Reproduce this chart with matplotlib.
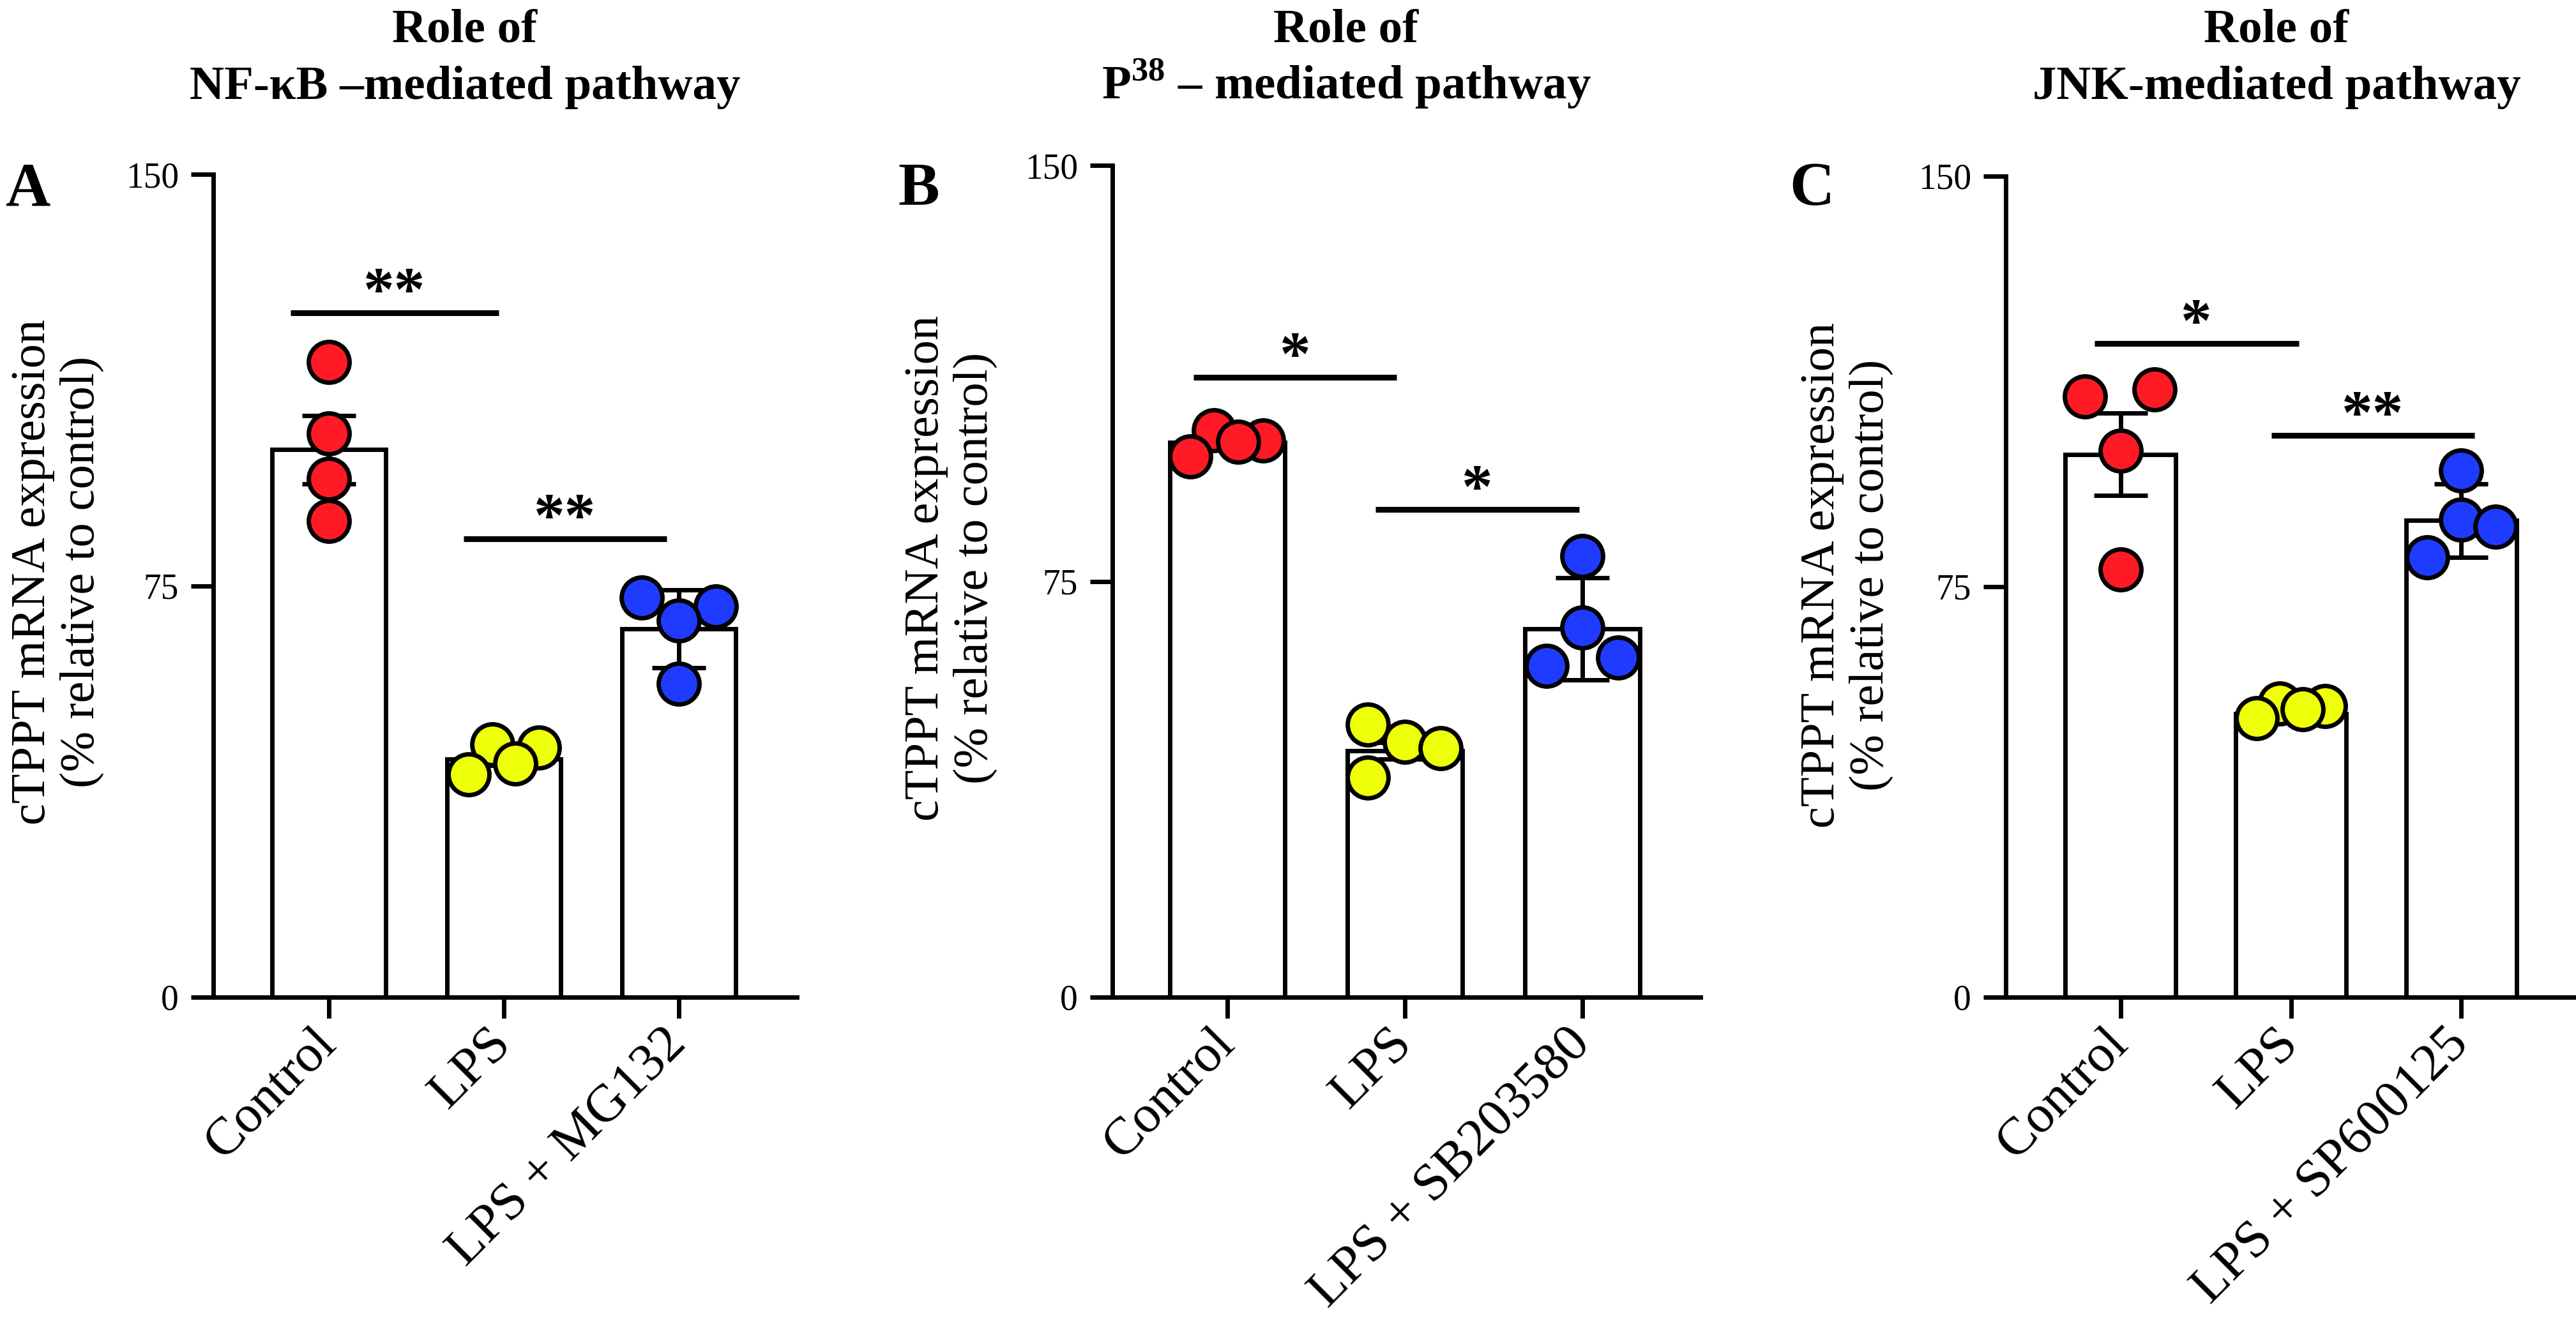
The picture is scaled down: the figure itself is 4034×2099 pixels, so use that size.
import numpy as np
import matplotlib
matplotlib.use('Agg')
import matplotlib.pyplot as plt

plt.rcParams['font.family'] = ['Liberation Serif', 'DejaVu Serif']
plt.rcParams['mathtext.fontset'] = 'custom'
plt.rcParams['mathtext.rm'] = 'Liberation Serif'
plt.rcParams['mathtext.bf'] = 'Liberation Serif:bold'

# data (% relative to control)
groups_A = ['Control', 'LPS', 'LPS + MG132']
mean_A = [99.8, 43.4, 67.2]
err_A = [6.2, 1.2, 7.1]
pts_A = [[115.8, 102.8, 94.5, 86.8], [40.6, 46.1, 42.6, 45.5], [72.9, 68.7, 71.2, 57.1]]
jit_A = [[0, 0, 0, 0], [-0.2, -0.067, 0.067, 0.2], [-0.21, 0, 0.21, 0]]
sig_A = [(-0.22, 0.97, 124.8, '**'), (0.77, 1.93, 83.6, '**')]

groups_B = ['Control', 'LPS', 'LPS + SB203580']
mean_B = [100.0, 44.4, 66.4]
err_B = [1.0, 1.5, 9.2]
pts_B = [[97.5, 102.2, 100.1, 100.4], [49.1, 46.0, 44.9, 39.6], [79.6, 66.7, 59.7, 61.3]]
jit_B = [[-0.21, -0.075, 0.063, 0.2], [-0.21, 0, 0.2, -0.21], [0, 0, -0.2, 0.2]]
sig_B = [(-0.19, 0.955, 111.8, '*'), (0.836, 1.98, 87.9, '*')]

groups_C = ['Control', 'LPS', 'LPS + SP600125']
mean_C = [99.2, 51.8, 87.1]
err_C = [7.5, 0.6, 6.7]
pts_C = [[109.8, 111.0, 99.8, 78.2], [51.0, 53.6, 52.6, 53.2], [96.2, 87.3, 86.0, 80.4]]
jit_C = [[-0.21, 0.2, 0, 0], [-0.2, -0.067, 0.07, 0.2], [0, 0, 0.2, -0.2]]
sig_C = [(-0.154, 1.045, 119.4, '*'), (0.885, 2.077, 102.6, '**')]

colors = ['#FF1A25', '#EEFF0A', '#1F3BFF']
ylab = 'cTPPT mRNA expression\n(% relative to control)'

W, H = 4034, 2099
fig = plt.figure(figsize=(W / 100, H / 100), dpi=100)


def panel(rect, xlim, groups, means, errs, pts, jit, sigs):
    ax = fig.add_axes(rect)
    x = np.arange(len(groups))
    ax.bar(x, means, width=0.65, color='white', edgecolor='black', linewidth=5, zorder=1)
    ax.errorbar(x, means, yerr=errs, fmt='none', ecolor='black', elinewidth=5,
                capsize=30, capthick=5, zorder=2)
    for i, vals in enumerate(pts):
        vals = np.array(vals)
        off = np.array(jit[i])
        order = np.argsort(-vals)  # lower points drawn on top
        for k in order:
            ax.plot(x[i] + off[k], vals[k], 'o', ms=46, mfc=colors[i], mec='black',
                    mew=5, zorder=3, clip_on=False)
    for x0, x1, y, s in sigs:
        ax.plot([x0, x1], [y, y], color='black', lw=6.5, solid_capstyle='butt', zorder=4)
        ax.text((x0 + x1) / 2, y + 0.5, s, ha='center', va='baseline',
                fontsize=70, fontweight='bold')
    ax.set_xlim(*xlim)
    ax.set_ylim(0, 150)
    ax.set_yticks([0, 75, 150])
    ax.set_xticks(x)
    ax.set_xticklabels(groups, rotation=45, ha='right', va='center',
                       rotation_mode='anchor', fontsize=60)
    ax.tick_params(axis='y', length=25, width=5, labelsize=40, pad=14)
    ax.tick_params(axis='x', length=24, width=5, pad=20)
    for s in ['top', 'right']:
        ax.spines[s].set_visible(False)
    for s in ['left', 'bottom']:
        ax.spines[s].set_linewidth(5)
    return ax


panel([334 / W, 1 - 1562 / H, 914 / W, 1289 / H], (-0.66, 2.675),
      groups_A, mean_A, err_A, pts_A, jit_A, sig_A)
panel([1742 / W, 1 - 1562 / H, 921 / W, 1303 / H], (-0.647, 2.665),
      groups_B, mean_B, err_B, pts_B, jit_B, sig_B)
panel([3141 / W, 1 - 1562 / H, 893 / W, 1286 / H], (-0.674, 2.674),
      groups_C, mean_C, err_C, pts_C, jit_C, sig_C)

# titles, panel letters, y labels
titles = ['NF-κB –mediated pathway', r'P$^{\mathbf{38}}$ – mediated pathway', 'JNK-mediated pathway']
title_x = [728, 2108, 3565]
letters = ['A', 'B', 'C']
letter_x = [44, 1439, 2837]
ylab_x = [90, 1489, 2892]
ylab_y = [896, 890, 901]
for t, tx, l, lx, yx, yy in zip(titles, title_x, letters, letter_x, ylab_x, ylab_y):
    fig.text(tx / W, 1 - 66 / H, 'Role of', ha='center', va='baseline', fontsize=54, fontweight='bold')
    fig.text(tx / W, 1 - 155 / H, t, ha='center', va='baseline', fontsize=54, fontweight='bold')
    fig.text(lx / W, 1 - 321 / H, l, ha='center', va='baseline', fontsize=70, fontweight='bold')
    fig.text(yx / W, 1 - yy / H, ylab, rotation=90, ha='center', va='center',
             multialignment='center', fontsize=55, linespacing=1.15)

fig.savefig('out.png', dpi=100)
